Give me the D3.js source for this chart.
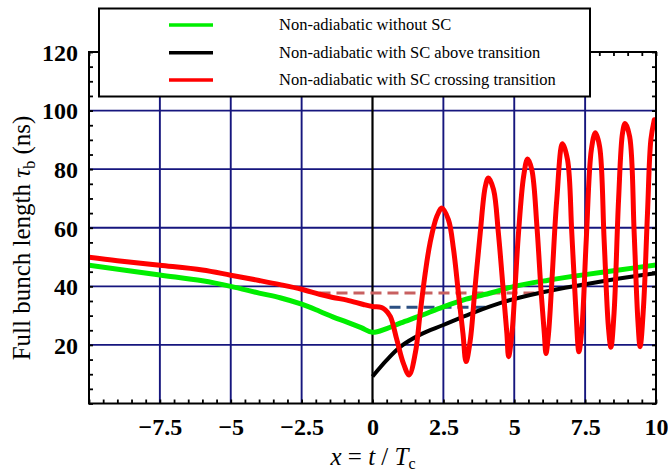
<!DOCTYPE html>
<html><head><meta charset="utf-8">
<script src="https://cdn.jsdelivr.net/npm/d3@7"></script>
<style>html,body{margin:0;padding:0;background:#fff;}svg{display:block;}</style>
</head><body>
<svg id="chart" width="668" height="472"></svg>
<script>
// ---- data ----
const xTickValues = [-7.5, -5, -2.5, 0, 2.5, 5, 7.5, 10];
const xTickLabels = ["\u22127.5", "\u22125", "\u22122.5", "0", "2.5", "5", "7.5", "10"];
const yTickValues = [20, 40, 60, 80, 100, 120];
const yTickLabels = ["20", "40", "60", "80", "100", "120"];
const legendLabels = ["Non-adiabatic without SC", "Non-adiabatic with SC above transition", "Non-adiabatic with SC crossing transition"];

const greenX = [-10, -7.5, -6, -5, -4, -3.26, -2.5, -1.87, -1.38, -0.9, -0.4, 0, 0.5, 1.0, 1.7, 2.5, 3.3, 4.2, 5.0, 6.2, 7.5, 8.7, 10];
const greenY = [47.2, 43.9, 41.9, 40.0, 37.7, 36.1, 33.9, 31.5, 29.5, 27.8, 25.9, 24.3, 25.6, 27.5, 30.0, 33.0, 35.6, 37.8, 40.0, 42.1, 44.0, 45.6, 47.3];

const blackX = [0, 0.5, 1.0, 1.7, 2.5, 3.45, 4.6, 6.0, 7.5, 8.7, 10];
const blackY = [9.2, 14.8, 19.5, 23.6, 26.8, 30.6, 34.6, 38.0, 40.7, 42.7, 44.5];

const redX = [-10, -9, -7.5, -6, -5, -4, -3.26, -2.5, -1.87, -1.4, -0.9, -0.32, 0, 0.3, 0.45, 0.63, 0.86, 1.09, 1.29, 1.51, 1.68, 1.86, 2.03, 2.27, 2.45, 2.68, 2.86, 3.03, 3.19, 3.30, 3.45, 3.62, 3.80, 3.98, 4.09, 4.27, 4.44, 4.62, 4.74, 4.80, 4.92, 5.03, 5.15, 5.33, 5.47, 5.62, 5.80, 5.95, 6.06, 6.12, 6.21, 6.33, 6.50, 6.70, 6.88, 7.03, 7.18, 7.28, 7.39, 7.54, 7.72, 7.86, 8.01, 8.17, 8.32, 8.41, 8.52, 8.68, 8.82, 8.91, 9.07, 9.23, 9.36, 9.44, 9.56, 9.70, 9.82, 9.94];
const redY = [49.9, 48.7, 47.2, 45.6, 43.8, 42.0, 40.6, 39.0, 37.3, 36.2, 35.3, 33.8, 33.1, 32.8, 32.0, 29.7, 21.7, 13.7, 9.7, 17.2, 30.8, 44.5, 54.8, 63.9, 66.7, 62.7, 52.5, 37.7, 24.0, 14.3, 21.7, 39.9, 58.2, 74.1, 77.0, 73.0, 58.2, 37.7, 24.0, 16.0, 24.0, 39.9, 58.2, 77.5, 83.5, 79.8, 60.4, 37.7, 24.0, 17.1, 24.0, 42.2, 69.6, 88.7, 83.2, 58.2, 30.8, 17.7, 26.3, 55.9, 86.7, 92.4, 87.8, 55.9, 26.3, 19.2, 30.8, 69.6, 92.4, 95.6, 91.2, 58.2, 28.5, 19.4, 33.1, 65.0, 90.1, 96.9];

const dashRedX = [-1.87, 5.9];
const dashRedY = [37.7, 37.7];
const dashBlueX = [0, 4.2];
const dashBlueY = [32.9, 32.9];

// ---- layout ----
const svg = d3.select("#chart");
const L = 89, R = 656, T = 52, B = 403.5;
const x = d3.scaleLinear().domain([-10, 10]).range([L, R]);
const y = d3.scaleLinear().domain([0, 120]).range([B, T]);
const serif = "'Liberation Serif', 'Times New Roman', serif";
const navy = "#16167e";

svg.append("defs").append("clipPath").attr("id", "clip")
  .append("rect").attr("x", L).attr("y", T).attr("width", R - L).attr("height", B - T);

// grid
const g = svg.append("g");
g.selectAll("line.gx").data(xTickValues.filter(v => v !== 0 && v !== 10)).join("line")
  .attr("x1", d => x(d)).attr("x2", d => x(d)).attr("y1", T).attr("y2", B)
  .attr("stroke", navy).attr("stroke-width", 1.9);
g.selectAll("line.gy").data(yTickValues.filter(v => v !== 120)).join("line")
  .attr("y1", d => y(d)).attr("y2", d => y(d)).attr("x1", L).attr("x2", R)
  .attr("stroke", navy).attr("stroke-width", 1.9);
// x = 0 line
g.append("line").attr("x1", x(0)).attr("x2", x(0)).attr("y1", T).attr("y2", B)
  .attr("stroke", "#000").attr("stroke-width", 2.2);

// minor ticks via axes
const minorX = d3.range(-10, 10.001, 0.5);
const minorY = d3.range(0, 120.001, 5);
svg.append("g").attr("transform", `translate(0,${B})`)
  .call(d3.axisBottom(x).tickValues(minorX).tickSize(-4).tickFormat(""))
  .call(a => a.select(".domain").remove()).selectAll("line").attr("stroke-width", 1.8);
svg.append("g").attr("transform", `translate(0,${T})`)
  .call(d3.axisTop(x).tickValues(minorX).tickSize(-4).tickFormat(""))
  .call(a => a.select(".domain").remove()).selectAll("line").attr("stroke-width", 1.8);
svg.append("g").attr("transform", `translate(${L},0)`)
  .call(d3.axisLeft(y).tickValues(minorY).tickSize(-4).tickFormat(""))
  .call(a => a.select(".domain").remove()).selectAll("line").attr("stroke-width", 1.8);
svg.append("g").attr("transform", `translate(${R},0)`)
  .call(d3.axisRight(y).tickValues(minorY).tickSize(-4).tickFormat(""))
  .call(a => a.select(".domain").remove()).selectAll("line").attr("stroke-width", 1.8);

// tick labels
const xa = svg.append("g").attr("transform", `translate(0,${B})`)
  .call(d3.axisBottom(x).tickValues(xTickValues).tickSize(0).tickPadding(0)
    .tickFormat((d, i) => xTickLabels[i]));
xa.select(".domain").remove();
xa.selectAll("text").attr("y", 31).attr("dy", null)
  .attr("font-family", serif).attr("font-weight", "bold").attr("font-size", 24).attr("fill", "#000");
const ya = svg.append("g").attr("transform", `translate(${L},0)`)
  .call(d3.axisLeft(y).tickValues(yTickValues).tickSize(0).tickPadding(11)
    .tickFormat((d, i) => yTickLabels[i]));
ya.select(".domain").remove();
ya.selectAll("text").attr("dy", "0.35em")
  .attr("font-family", serif).attr("font-weight", "bold").attr("font-size", 24).attr("fill", "#000");

// dashed reference lines
const line = d3.line().x(d => x(d[0])).y(d => y(d[1]));
svg.append("path").datum(d3.zip(dashRedX, dashRedY)).attr("d", line)
  .attr("fill", "none").attr("stroke", "#c86060").attr("stroke-width", 3).attr("stroke-dasharray", "11,6");
svg.append("path").datum(d3.zip(dashBlueX, dashBlueY)).attr("d", line)
  .attr("fill", "none").attr("stroke", "#2b4f82").attr("stroke-width", 3).attr("stroke-dasharray", "11,6");

// curves
const curve = d3.line().x(d => x(d[0])).y(d => y(d[1])).curve(d3.curveCatmullRom.alpha(0.5));
const plot = svg.append("g").attr("clip-path", "url(#clip)");
plot.append("path").datum(d3.zip(greenX, greenY)).attr("d", curve)
  .attr("fill", "none").attr("stroke", "#00ee00").attr("stroke-width", 5).attr("stroke-linejoin", "round");
plot.append("path").datum(d3.zip(blackX, blackY)).attr("d", curve)
  .attr("fill", "none").attr("stroke", "#000").attr("stroke-width", 4).attr("stroke-linejoin", "round");
plot.append("path").datum(d3.zip(redX, redY)).attr("d", curve)
  .attr("fill", "none").attr("stroke", "#ff0000").attr("stroke-width", 5).attr("stroke-linejoin", "round").attr("stroke-linecap", "round");

// frame
svg.append("rect").attr("x", L).attr("y", T).attr("width", R - L).attr("height", B - T)
  .attr("fill", "none").attr("stroke", "#000").attr("stroke-width", 2);

// legend
const lg = svg.append("g");
lg.append("rect").attr("x", 99).attr("y", 8.5).attr("width", 491).attr("height", 88)
  .attr("fill", "#fff").attr("stroke", "#000").attr("stroke-width", 2);
const legColors = ["#00ee00", "#000", "#ff0000"];
const legY = [25, 52.7, 80];
legendLabels.forEach((lab, i) => {
  lg.append("line").attr("x1", 169).attr("x2", 213).attr("y1", legY[i]).attr("y2", legY[i])
    .attr("stroke", legColors[i]).attr("stroke-width", 3.5);
  lg.append("text").attr("x", 279).attr("y", legY[i]).attr("dy", "0.32em")
    .attr("font-family", serif).attr("font-size", 16.5).text(lab);
});

// axis titles
const xt = svg.append("text").attr("x", 373).attr("y", 465).attr("text-anchor", "middle")
  .attr("font-family", serif).attr("font-size", 25);
xt.append("tspan").attr("font-style", "italic").text("x");
xt.append("tspan").text(" = ");
xt.append("tspan").attr("font-style", "italic").text("t");
xt.append("tspan").text(" / ");
xt.append("tspan").attr("font-style", "italic").text("T");
xt.append("tspan").attr("font-size", 16).attr("dy", 4).text("c");

const yt = svg.append("text").attr("transform", "translate(30,238) rotate(-90)").attr("text-anchor", "middle")
  .attr("font-family", serif).attr("font-size", 25);
yt.append("tspan").text("Full bunch length ");
yt.append("tspan").attr("font-style", "italic").text("\u03C4");
yt.append("tspan").attr("font-size", 16).attr("dy", 5).text("b");
yt.append("tspan").attr("dy", -5).text(" (ns)");
</script>
</body></html>
